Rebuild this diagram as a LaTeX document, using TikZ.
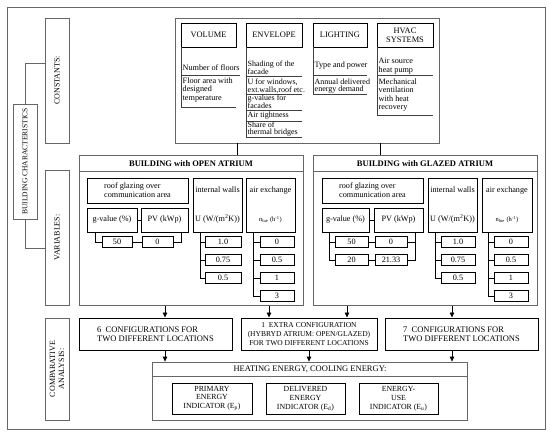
\documentclass[tikz,border=0pt]{standalone}
\usepackage{fontspec}
\setmainfont{Liberation Serif}
\usetikzlibrary{arrows.meta}
\tikzset{
  frame/.style={draw=black!60, line width=0.8pt},
  bbox/.style={draw=black, line width=1pt},
  vbox/.style={draw=black, line width=0.8pt},
  txt/.style={font=\fontsize{8.2}{9}\selectfont, inner sep=0pt, align=center},
  big/.style={font=\fontsize{8.5}{9.5}\selectfont},
  itm/.style={font=\fontsize{8.2}{8.6}\selectfont, inner sep=0pt, align=left, anchor=west},
  titm/.style={font=\fontsize{8}{7.6}\selectfont, inner sep=0pt, align=left, anchor=west},
  vlab/.style={font=\fontsize{8}{9}\selectfont, inner sep=0pt, align=center, rotate=90},
  ttl/.style={font=\fontsize{8.5}{9.5}\selectfont\bfseries, inner sep=0pt},
  arr/.style={-{Triangle[length=5pt,width=4.5pt]}, line width=0.8pt},
  ln/.style={line width=0.8pt},
  rule/.style={draw=black!75, line width=0.8pt},
}
\newcommand{\bx}[7][]{\node[txt, minimum width={(#5-#3)*1pt}, minimum height={(#6-#4)*1pt}, #1] (#2) at ({(#3+#5)/2},{(#4+#6)/2}) {#7};}
\begin{document}
\begin{tikzpicture}[x=1pt,y=-1pt]
\useasboundingbox (0,0) rectangle (550,437);
\bx[frame]{outer}{7}{7}{545}{429}{}

% left labels
\bx[frame]{bc}{13}{104}{37}{219}{}
\node[vlab,font=\fontsize{7.5}{8.5}\selectfont] (bct) at (bc) {BUILDING CHARACTERISTICS};
\bx[frame]{cl}{45}{18}{69}{143}{}
\node[vlab] (clt) at (cl) {CONSTANTS:};
\bx[frame]{vl}{45}{170}{69}{305}{}
\node[vlab] (vlt) at (vl) {VARIABLES:};
\bx[frame]{cal}{45}{318}{69}{420}{}
\node[vlab] (calt) at (cal) {COMPARATIVE\\ANALYSIS:};
\coordinate (ky1) at (0,63);
\coordinate (ky2) at (0,248);
\draw[frame] (bc.north) |- (cl.west |- ky1);
\draw[frame] (bc.south) |- (vl.west |- ky2);

% constants
\bx[frame]{cons}{175}{18}{439}{143}{}
\bx[bbox,font=\fontsize{8.4}{9.4}\selectfont]{hvol}{181}{23}{236}{47}{VOLUME}
\bx[bbox,font=\fontsize{8.4}{9.4}\selectfont]{henv}{246}{23}{302}{47}{ENVELOPE}
\bx[bbox,font=\fontsize{8.4}{9.4}\selectfont]{hlig}{313}{23}{367}{47}{LIGHTING}
\bx[bbox,font=\fontsize{8.4}{9.4}\selectfont]{hhva}{377}{23}{433}{47}{HVAC\\SYSTEMS}

\draw[rule] (181,47) -- (181,107);
\node[itm] (v1) at (182.5,68) {Number of floors};
\draw[rule] (181,75) -- (240,75);
\node[itm] (v2) at (182.5,90) {Floor area with\\designed\\temperature};
\draw[rule] (181,107) -- (236,107);

\draw[rule] (246,47) -- (246,137);
\node[titm] (e1) at (247.5,68) {Shading of the\\facade};
\draw[rule] (246,76) -- (302,76);
\node[titm] (e2) at (247.5,86) {U for windows,\\ext.walls,roof etc.};
\draw[rule] (246,94) -- (302,94);
\node[titm] (e3) at (247.5,102) {g-values for\\facades};
\draw[rule] (246,110) -- (302,110);
\node[titm] (e4) at (247.5,115.5) {Air tightness};
\draw[rule] (246,121) -- (302,121);
\node[titm] (e5) at (247.5,129) {Share of\\thermal bridges};
\draw[rule] (246,137) -- (302,137);

\draw[rule] (313,47) -- (313,94);
\node[itm] (l1) at (314.5,66) {Type and power};
\draw[rule] (313,75) -- (367,75);
\node[titm] (l2) at (314.5,86) {Annual delivered\\energy demand};
\draw[rule] (313,94) -- (367,94);

\draw[rule] (377,47) -- (377,115);
\node[itm] (h1) at (378.5,66) {Air source\\heat pump};
\draw[rule] (377,75) -- (433,75);
\node[itm] (h2) at (378.5,95) {Mechanical\\ventilation\\with heat\\recovery};
\draw[rule] (377,115) -- (433,115);

% atria
\bx[frame]{oa}{79}{155.5}{303}{305.5}{}
\draw[frame] (79,171.5) -- (303,171.5);
\node[ttl] (oat) at (191,164) {BUILDING with OPEN ATRIUM};
\bx[frame]{ga}{313}{155.5}{537}{305.5}{}
\draw[frame] (313,171.5) -- (537,171.5);
\node[ttl] (gat) at (425,164) {BUILDING with GLAZED ATRIUM};

\coordinate (k237) at (237,0);
\coordinate (k380) at (380,0);
\draw[ln] (cons.south -| k237) -- (oa.north -| k237);
\draw[ln] (cons.south -| k380) -- (ga.north -| k380);

% open atrium content
\bx[bbox,align=left]{rg1}{87}{178}{188}{203}{roof glazing over\\communication area}
\bx[bbox]{gv1}{87}{208}{137}{232}{g-value (\%)}
\bx[bbox]{pv1}{141}{208}{188}{232}{PV (kWp)}
\draw[ln] (gv1) -- (pv1);
\bx[bbox]{iw1}{193}{178}{242}{232}{internal walls\\[20pt]U (W/(m\textsuperscript{2}K))}
\bx[bbox]{ae1}{246}{178}{295}{232}{air exchange\\[20pt]{\fontsize{6.5}{7}\selectfont n\textsubscript{lue} (h\textsuperscript{-1})}}

\bx[vbox]{g1a}{102}{236.5}{132}{247.5}{50}
\bx[vbox]{p1a}{142}{236.5}{173}{247.5}{0}
\draw[ln] (g1a) -- (p1a);
\coordinate (k95) at (95,0);
\coordinate (k181) at (181,0);
\draw[ln] (gv1.south -| k95) |- (g1a.west);
\draw[ln] (pv1.south -| k181) |- (p1a.east);

\bx[vbox]{i1a}{205}{236.5}{241}{247.5}{1.0}
\bx[vbox]{i1b}{205}{254.5}{241}{265.5}{0.75}
\bx[vbox]{i1c}{205}{272.5}{241}{283.5}{0.5}
\coordinate (k200) at (200,0);
\draw[ln] (iw1.south -| k200) |- (i1c.west);
\draw[ln] (k200 |- i1a.west) -- (i1a.west);
\draw[ln] (k200 |- i1b.west) -- (i1b.west);

\bx[vbox]{a1a}{260}{236.5}{294}{247.5}{0}
\bx[vbox]{a1b}{260}{254.5}{294}{265.5}{0.5}
\bx[vbox]{a1c}{260}{272.5}{294}{283.5}{1}
\bx[vbox]{a1d}{260}{290.5}{294}{301.5}{3}
\coordinate (k253) at (253,0);
\draw[ln] (ae1.south -| k253) |- (a1d.west);
\draw[ln] (k253 |- a1a.west) -- (a1a.west);
\draw[ln] (k253 |- a1b.west) -- (a1b.west);
\draw[ln] (k253 |- a1c.west) -- (a1c.west);

% glazed atrium content
\bx[bbox,align=left]{rg2}{322}{178}{423}{203}{roof glazing over\\communication area}
\bx[bbox]{gv2}{322}{208}{369}{232}{g-value (\%)}
\bx[bbox]{pv2}{374}{208}{423}{232}{PV (kWp)}
\draw[ln] (gv2) -- (pv2);
\bx[bbox]{iw2}{428}{178}{477}{232}{internal walls\\[20pt]U (W/(m\textsuperscript{2}K))}
\bx[bbox]{ae2}{482}{178}{532}{232}{air exchange\\[20pt]{\fontsize{6.5}{7}\selectfont n\textsubscript{lue} (h\textsuperscript{-1})}}

\bx[vbox]{g2a}{335}{236.5}{368}{247.5}{50}
\bx[vbox]{g2b}{335}{254.5}{368}{265.5}{20}
\bx[vbox]{p2a}{375}{236.5}{407}{247.5}{0}
\bx[vbox]{p2b}{375}{254.5}{407}{265.5}{21.33}
\draw[ln] (g2a) -- (p2a);
\draw[ln] (g2b) -- (p2b);
\coordinate (k329) at (329,0);
\coordinate (k415) at (415,0);
\draw[ln] (gv2.south -| k329) |- (g2b.west);
\draw[ln] (k329 |- g2a.west) -- (g2a.west);
\draw[ln] (pv2.south -| k415) |- (p2b.east);
\draw[ln] (k415 |- p2a.east) -- (p2a.east);

\bx[vbox]{i2a}{441}{236.5}{475}{247.5}{1.0}
\bx[vbox]{i2b}{441}{254.5}{475}{265.5}{0.75}
\bx[vbox]{i2c}{441}{272.5}{475}{283.5}{0.5}
\coordinate (k435) at (435,0);
\draw[ln] (iw2.south -| k435) |- (i2c.west);
\draw[ln] (k435 |- i2a.west) -- (i2a.west);
\draw[ln] (k435 |- i2b.west) -- (i2b.west);

\bx[vbox]{a2a}{494}{236.5}{528}{247.5}{0}
\bx[vbox]{a2b}{494}{254.5}{528}{265.5}{0.5}
\bx[vbox]{a2c}{494}{272.5}{528}{283.5}{1}
\bx[vbox]{a2d}{494}{290.5}{528}{301.5}{3}
\coordinate (k488) at (488,0);
\draw[ln] (ae2.south -| k488) |- (a2d.west);
\draw[ln] (k488 |- a2a.west) -- (a2a.west);
\draw[ln] (k488 |- a2b.west) -- (a2b.west);
\draw[ln] (k488 |- a2c.west) -- (a2c.west);

% comparative analysis
\bx[bbox,big,align=left]{c6}{79}{318}{232}{350}{6\ \ CONFIGURATIONS FOR\\TWO DIFFERENT LOCATIONS}
\bx[bbox,font=\fontsize{7.5}{8.6}\selectfont]{cx}{241}{318}{377}{350}{1\ \ EXTRA CONFIGURATION\\(HYBRYD ATRIUM: OPEN/GLAZED)\\FOR TWO DIFFERENT LOCATIONS}
\bx[bbox,big,align=left]{c7}{385}{318}{538}{350}{7\ \ CONFIGURATIONS FOR\\TWO DIFFERENT LOCATIONS}

\bx[frame]{he}{152}{362}{467}{420}{}
\draw[frame] (152,376) -- (467,376);
\node[txt,big] (het) at (310,369.5) {HEATING ENERGY, COOLING ENERGY:};
\bx[bbox,font=\fontsize{7.8}{8.8}\selectfont]{pe}{172}{383}{252}{414}{PRIMARY\\ENERGY\\INDICATOR (E\textsubscript{p})}
\bx[bbox,font=\fontsize{7.8}{8.8}\selectfont]{de}{266}{383}{345}{414}{DELIVERED\\ENERGY\\INDICATOR (E\textsubscript{d})}
\bx[bbox,font=\fontsize{7.8}{8.8}\selectfont]{eu}{359}{383}{438}{414}{ENERGY-\\USE\\INDICATOR (E\textsubscript{u})}

\coordinate (k165) at (165,0);
\coordinate (k269) at (269,0);
\coordinate (k347) at (347,0);
\coordinate (k452) at (452,0);
\coordinate (k309) at (309,0);
\draw[arr] (oa.south -| k165) -- (c6.north -| k165);
\draw[arr] (oa.south -| k269) -- (cx.north -| k269);
\draw[arr] (ga.south -| k347) -- (cx.north -| k347);
\draw[arr] (ga.south -| k452) -- (c7.north -| k452);
\draw[arr] (c6.south -| k165) -- (he.north -| k165);
\draw[arr] (cx.south -| k309) -- (he.north -| k309);
\draw[arr] (c7.south -| k452) -- (he.north -| k452);
\end{tikzpicture}
\end{document}
